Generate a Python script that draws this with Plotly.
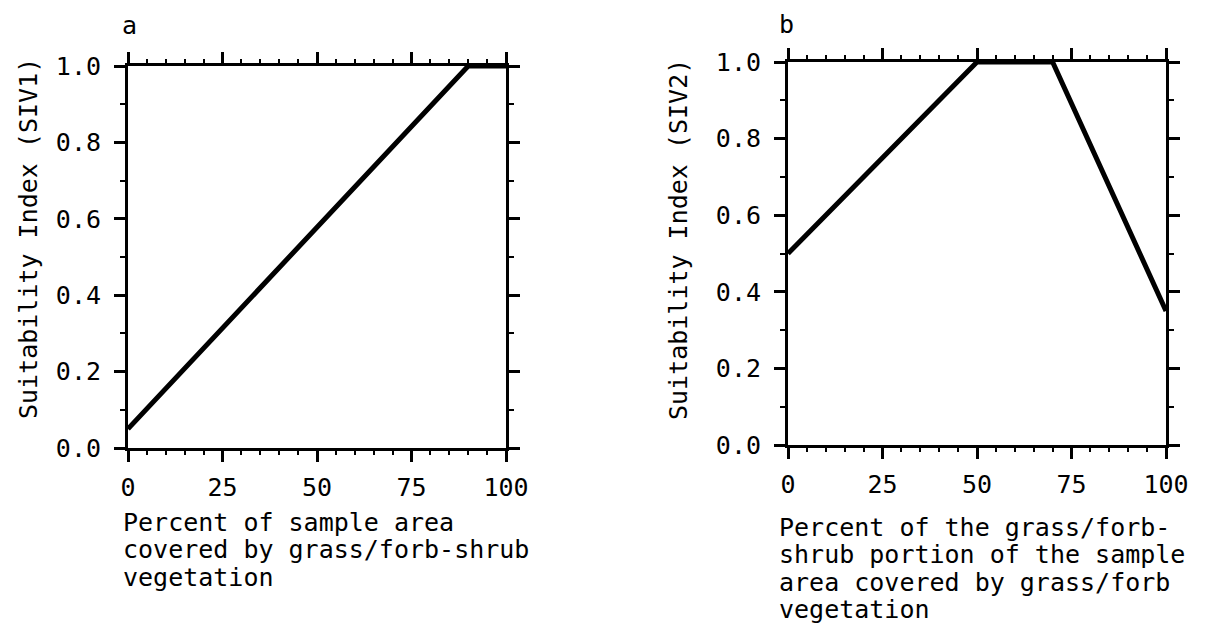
import plotly.graph_objects as go

# Panel a: SIV1
xa = [0, 90, 100]
ya = [0.05, 1.0, 1.0]
# Panel b: SIV2
xb = [0, 50, 70, 100]
yb = [0.5, 1.0, 1.0, 0.35]

x_ticks = [0, 25, 50, 75, 100]
y_ticks = [0.0, 0.2, 0.4, 0.6, 0.8, 1.0]
y_ticklabels = ["0.0", "0.2", "0.4", "0.6", "0.8", "1.0"]

xtitle_a = ["Percent of sample area", "covered by grass/forb-shrub", "vegetation"]
xtitle_b = ["Percent of the grass/forb-", "shrub portion of the sample",
            "area covered by grass/forb", "vegetation"]

FONT = "DejaVu Sans Mono"
FS = 25

fig = go.Figure()
fig.add_trace(go.Scatter(x=xa, y=ya, mode="lines", line=dict(color="black", width=5),
                         xaxis="x", yaxis="y", showlegend=False))
fig.add_trace(go.Scatter(x=xb, y=yb, mode="lines", line=dict(color="black", width=5),
                         xaxis="x2", yaxis="y2", showlegend=False))

W, H = 1213, 635
OFF = 8  # page offset of the figure inside the browser window
def px_x(p):
    return (p - OFF) / W
def px_y(p):
    return 1 - (p - OFF) / H

xcommon = dict(range=[0, 100], tickvals=x_ticks, ticktext=[str(v) for v in x_ticks],
               showline=True, linecolor="black", linewidth=3, mirror="ticks",
               ticks="outside", ticklen=11, tickwidth=3, tickcolor="black",
               showgrid=False, zeroline=False, automargin=False,
               minor=dict(dtick=5, ticks="outside", ticklen=4, tickwidth=2, tickcolor="black", showgrid=False),
               tickfont=dict(family=FONT, size=FS, color="black"), ticklabelstandoff=4)
ycommon = dict(range=[0, 1], tickvals=y_ticks, ticktext=y_ticklabels,
               showline=True, linecolor="black", linewidth=3, mirror="ticks",
               ticks="outside", ticklen=11, tickwidth=3, tickcolor="black",
               showgrid=False, zeroline=False, automargin=False,
               minor=dict(dtick=0.1, ticks="outside", ticklen=5, tickwidth=2, tickcolor="black", showgrid=False),
               tickfont=dict(family=FONT, size=FS, color="black"), ticklabelstandoff=8)

fig.update_layout(
    width=W, height=H, margin=dict(l=0, r=0, t=0, b=0, autoexpand=False),
    paper_bgcolor="white", plot_bgcolor="white",
    xaxis=dict(domain=[px_x(128), px_x(506)], anchor="y", **xcommon),
    yaxis=dict(domain=[px_y(448), px_y(66)], anchor="x", **ycommon),
    xaxis2=dict(domain=[px_x(788), px_x(1166)], anchor="y2", **xcommon),
    yaxis2=dict(domain=[px_y(445), px_y(62)], anchor="x2", **ycommon),
)

def ann(text, x, y, xanchor="left", yanchor="middle", angle=0, size=FS, align="left"):
    fig.add_annotation(text=text, x=px_x(x), y=px_y(y), xref="paper", yref="paper",
                       xanchor=xanchor, yanchor=yanchor, showarrow=False, textangle=angle,
                       align=align, font=dict(family=FONT, size=size, color="black"))

ann("a", 120, 25)
ann("b", 777, 8, yanchor="top")
ann("Suitability Index (SIV1)", 28, 239, xanchor="center", angle=-90)
ann("Suitability Index (SIV2)", 678, 239, xanchor="center", angle=-90)

def block(lines):
    return "<br>".join('<span style="font-size:%dpx">%s</span>' % (FS, t) for t in lines)

ann(block(xtitle_a), 121, 506, yanchor="top", size=21)
ann(block(xtitle_b), 777, 511, yanchor="top", size=21)

fig.write_html("out.html")
